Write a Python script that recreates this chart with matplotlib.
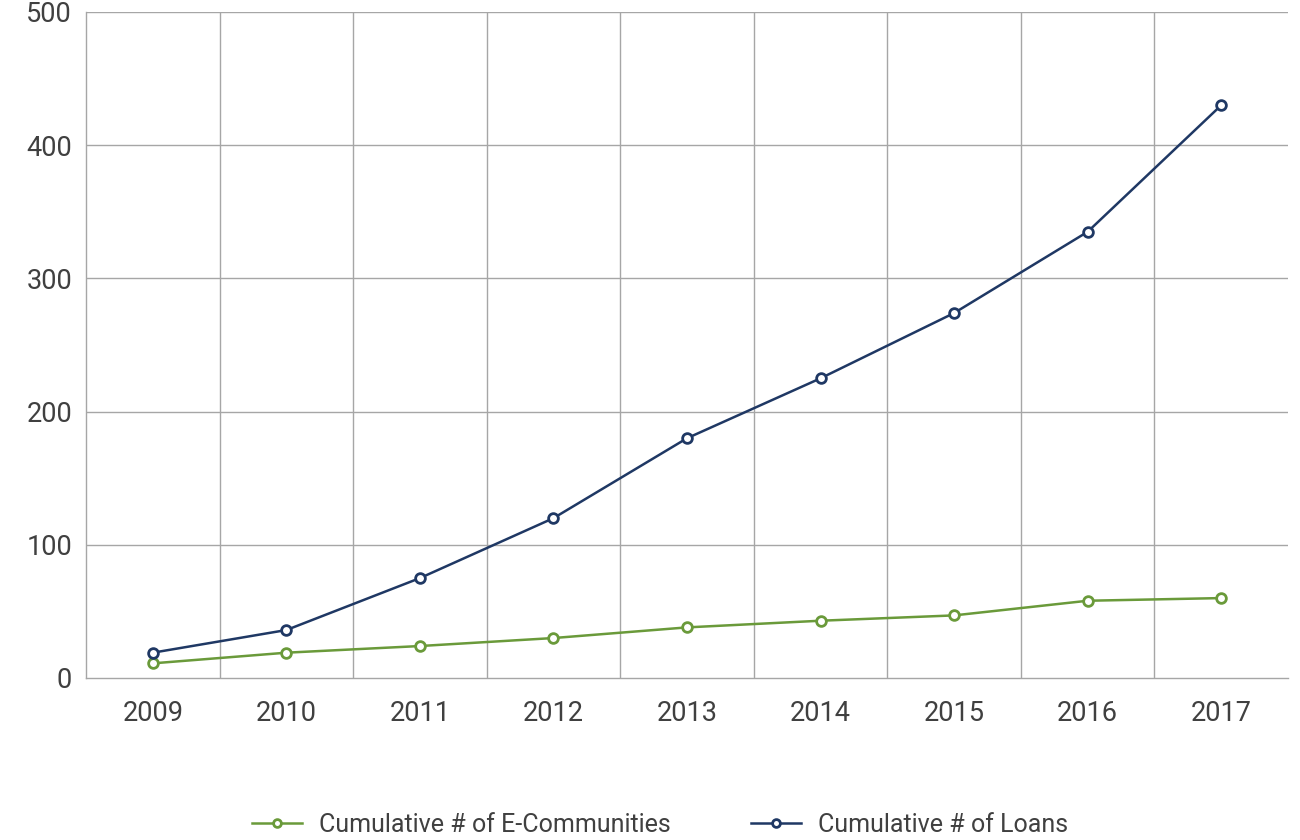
import matplotlib
matplotlib.use("Agg")
import matplotlib.pyplot as plt
import numpy as np

years = ["2009", "2010", "2011", "2012", "2013", "2014", "2015", "2016", "2017"]
ecommunities = [11, 19, 24, 30, 38, 43, 47, 58, 60]
loans = [19, 36, 75, 120, 180, 225, 274, 335, 430]
yticks = [0, 100, 200, 300, 400, 500]

plt.rcParams['font.family'] = ['Roboto', 'Liberation Sans', 'DejaVu Sans']
plt.rcParams['font.weight'] = 'normal'

fig = plt.figure(figsize=(13, 8.4), dpi=100)
ax = fig.add_axes([86/1300, 1 - 678/840, (1288-86)/1300, (678-12)/840])

x = np.arange(len(years))
green = "#6a9a3a"
navy = "#1f3864"
ax.plot(x, ecommunities, color=green, lw=1.8, marker='o', ms=7, mfc='white', mec=green, mew=2,
        label="Cumulative # of E-Communities", zorder=3)
ax.plot(x, loans, color=navy, lw=1.8, marker='o', ms=7, mfc='white', mec=navy, mew=2,
        label="Cumulative # of Loans", zorder=3)

ax.set_xlim(-0.5, len(years) - 0.5)
ax.set_ylim(0, 500)
ax.set_yticks(yticks)
ax.set_xticks(x)
ax.set_xticklabels(years)
ax.grid(False)
for v in np.arange(0.5, len(years) - 0.5, 1.0):
    ax.axvline(v, color="#a6a6a6", lw=1, zorder=1)
for v in yticks[1:]:
    ax.axhline(v, color="#a6a6a6", lw=1, zorder=1)
for s in ['left', 'bottom']:
    ax.spines[s].set_color("#a6a6a6")
    ax.spines[s].set_linewidth(1)
ax.spines['top'].set_visible(False)
ax.spines['right'].set_visible(False)
ax.tick_params(axis='both', which='both', length=0, labelsize=19.5, colors="#404040")
ax.tick_params(axis='x', pad=16)
ax.tick_params(axis='y', pad=10)

leg = fig.legend(loc='center', bbox_to_anchor=(660/1300, 1 - 825/840),
                 ncol=2, frameon=False, fontsize=18, handlelength=2.0, columnspacing=3.2,
                 handletextpad=0.7, markerscale=0.8)
for t in leg.get_texts():
    t.set_color("#404040")

fig.savefig("out.png", dpi=100)
